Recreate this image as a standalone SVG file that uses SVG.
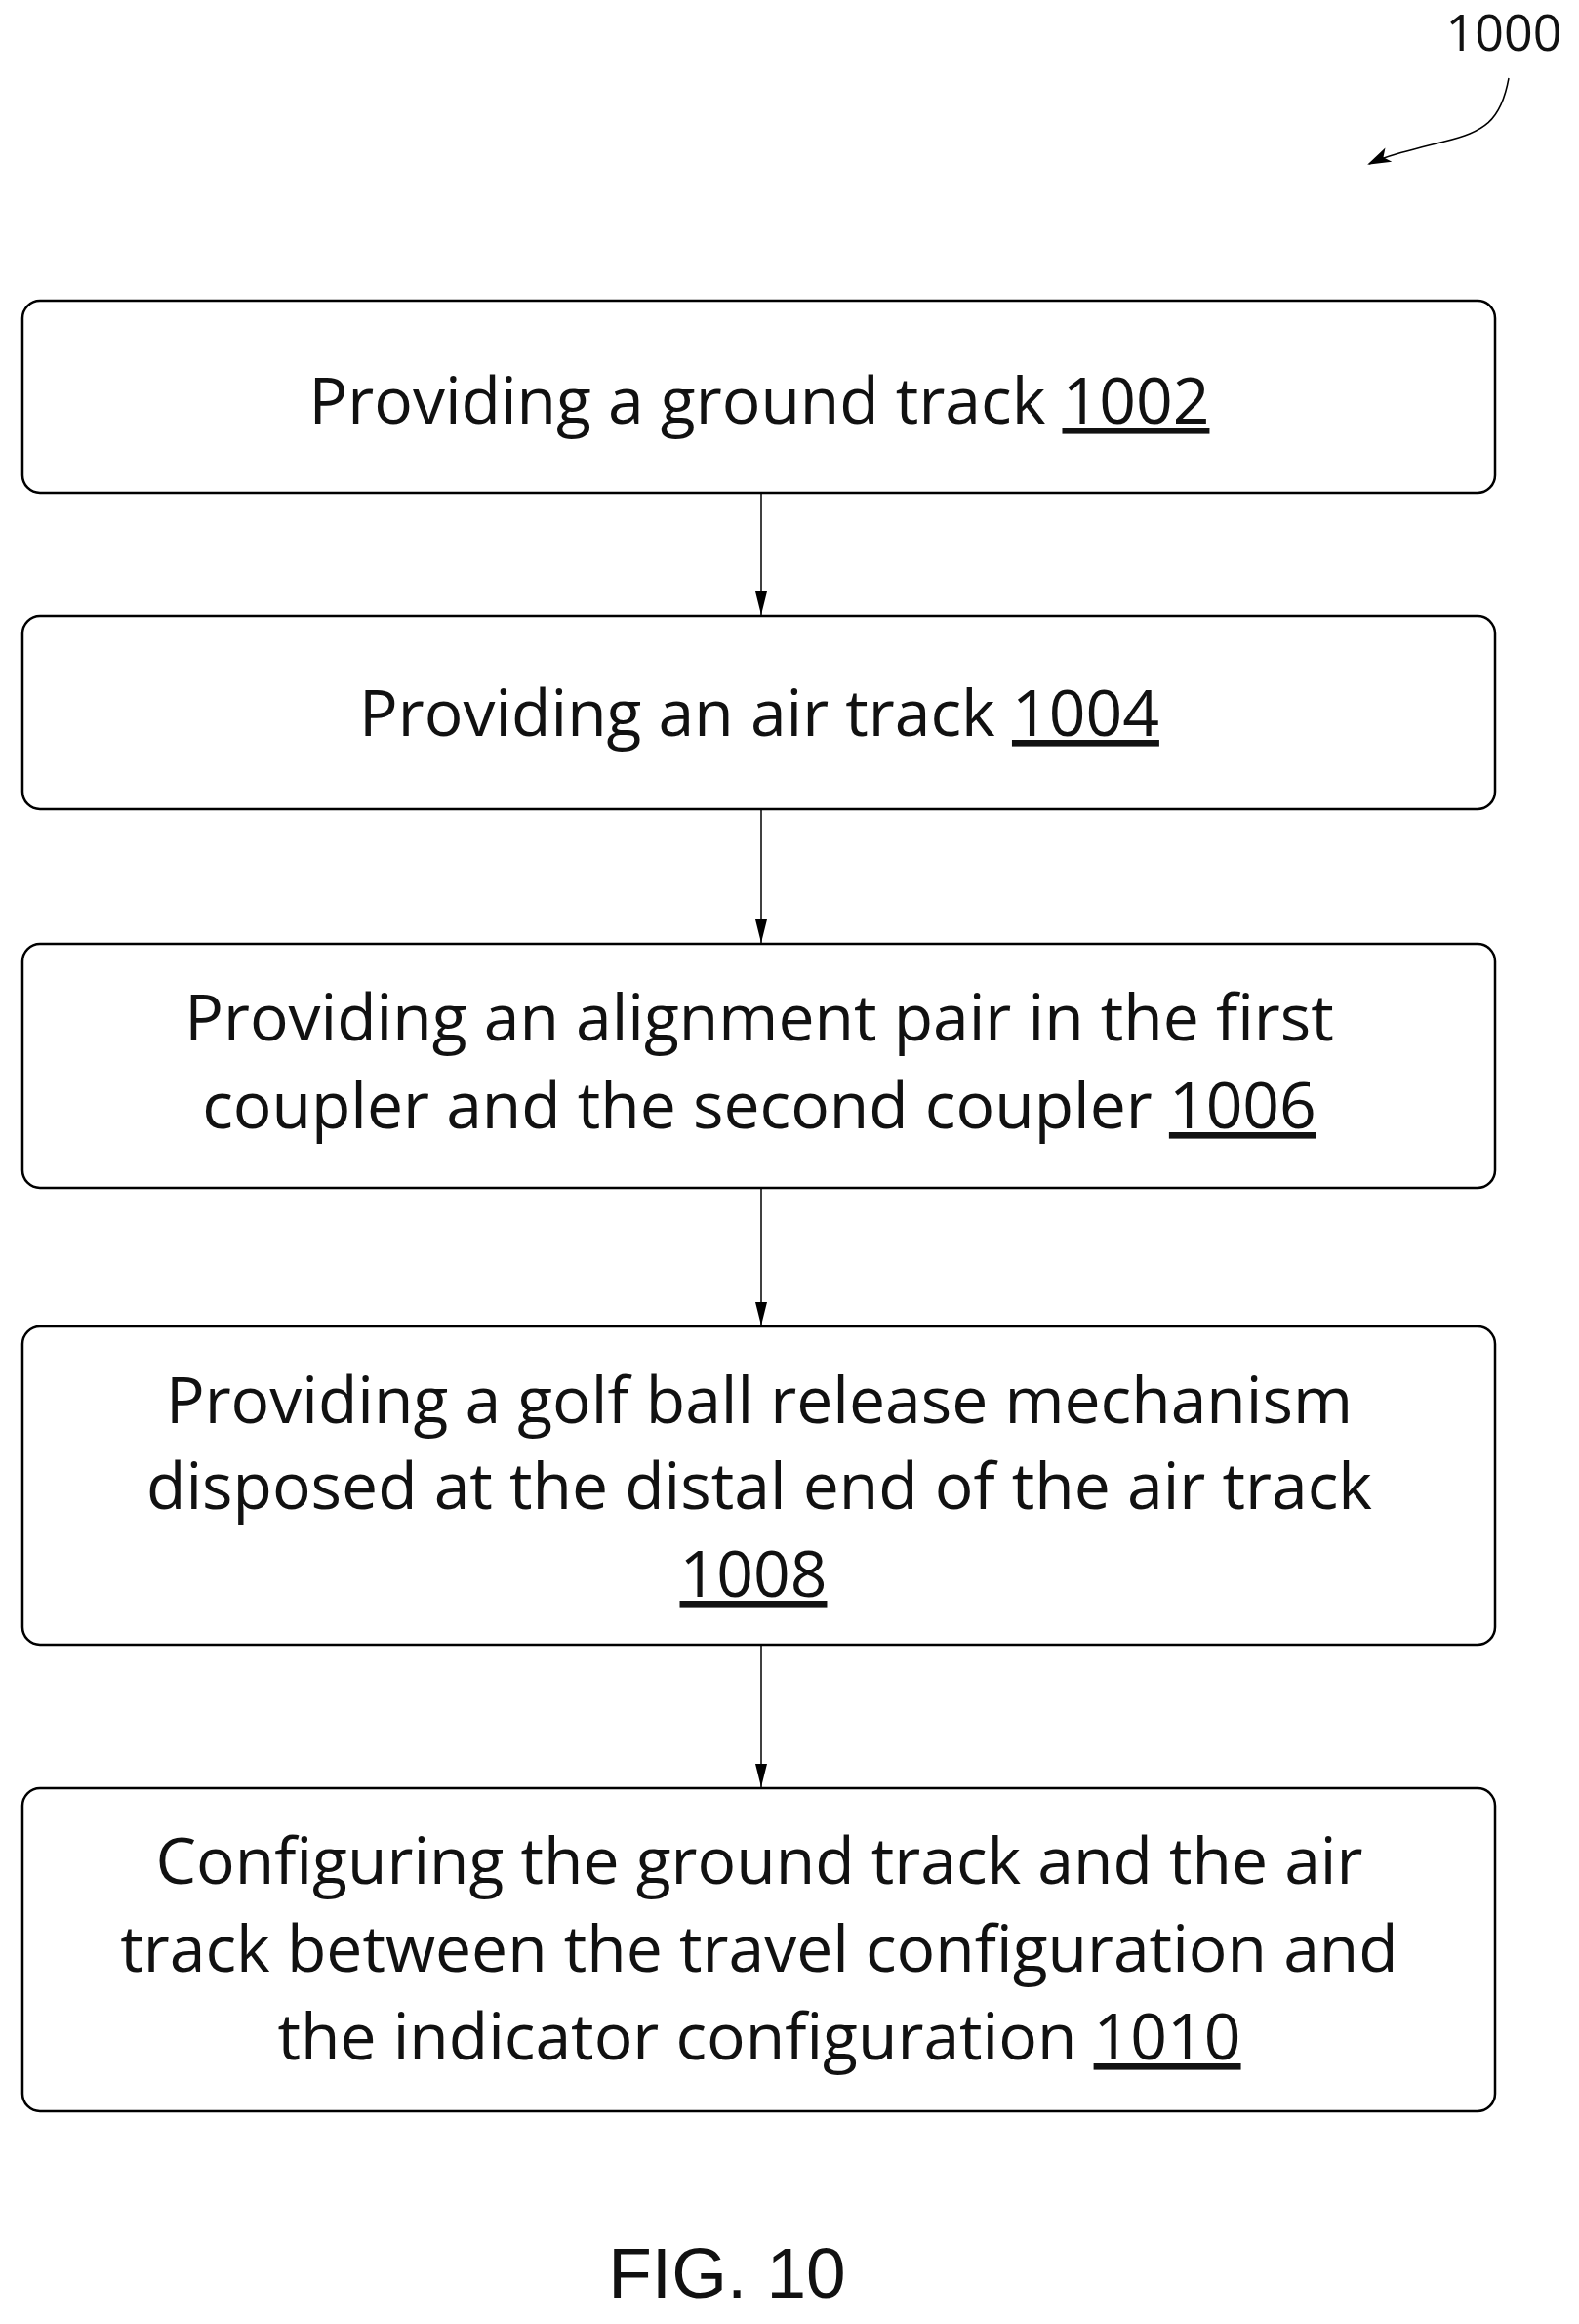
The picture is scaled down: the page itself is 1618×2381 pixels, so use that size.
<svg xmlns="http://www.w3.org/2000/svg" width="1618" height="2381" viewBox="0 0 1618 2381">
<style>
.box{fill:#fff;stroke:#000;stroke-width:2.5}
.t{font-family:"Open Sans","Noto Sans",sans-serif;font-size:66px;text-anchor:middle;fill:#111}
.u{text-decoration:underline}
.c{stroke:#000;stroke-width:1.5;fill:none}
</style>
<defs><marker id="ah" markerWidth="24" markerHeight="12" refX="24" refY="6" orient="auto" markerUnits="userSpaceOnUse" viewBox="0 0 24 12"><path d="M0,0 L24,6 L0,12 Z" fill="#000"/></marker>
<marker id="ah2" markerWidth="24" markerHeight="24" refX="22" refY="12" orient="auto" markerUnits="userSpaceOnUse" viewBox="0 0 24 24"><path d="M0,4 L24,12 L0,20 L6,12 Z" fill="#000"/></marker></defs>
<rect width="1618" height="2381" fill="#fff"/>
<text x="1541" y="52" style="font-family:'Open Sans',sans-serif;font-size:52px;text-anchor:middle;fill:#111">1000</text>
<path class="c" d="M1546,80 C1538,125 1520,135 1480,145 C1440,155 1420,160 1403,168" marker-end="url(#ah2)" stroke-width="2"/>
<g id="n1002"><rect class="box" x="23" y="308" width="1509" height="197" rx="18"/><text class="t" x="778" y="434">Providing a ground track <tspan class="u">1002</tspan></text></g>
<g id="n1004"><rect class="box" x="23" y="631" width="1509" height="198" rx="18"/><text class="t" x="778" y="754">Providing an air track <tspan class="u">1004</tspan></text></g>
<g id="n1006"><rect class="box" x="23" y="967" width="1509" height="250" rx="18"/><text class="t" x="778" y="1066">Providing an alignment pair in the first</text><text class="t" x="778" y="1156">coupler and the second coupler <tspan class="u">1006</tspan></text></g>
<g id="n1008"><rect class="box" x="23" y="1359" width="1509" height="326" rx="18"/><text class="t" x="778" y="1458">Providing a golf ball release mechanism</text><text class="t" x="778" y="1546">disposed at the distal end of the air track</text><text class="t" x="772" y="1636"><tspan class="u">1008</tspan></text></g>
<g id="n1010"><rect class="box" x="23" y="1832" width="1509" height="331" rx="18"/><text class="t" x="778" y="1930">Configuring the ground track and the air</text><text class="t" x="778" y="2020">track between the travel configuration and</text><text class="t" x="778" y="2110">the indicator configuration <tspan class="u">1010</tspan></text></g>
<g id="connectors">
<line class="c" x1="780" y1="505" x2="780" y2="630" marker-end="url(#ah)"/>
<line class="c" x1="780" y1="829" x2="780" y2="966" marker-end="url(#ah)"/>
<line class="c" x1="780" y1="1217" x2="780" y2="1358" marker-end="url(#ah)"/>
<line class="c" x1="780" y1="1685" x2="780" y2="1831" marker-end="url(#ah)"/>
</g>
<text x="745" y="2354" style="font-family:'Liberation Sans',sans-serif;font-size:73px;text-anchor:middle;fill:#111">FIG. 10</text>
</svg>
